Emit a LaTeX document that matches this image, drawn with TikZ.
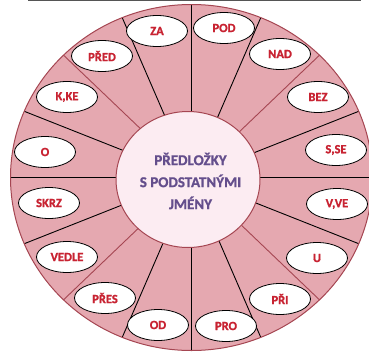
\documentclass[tikz,border=0pt]{standalone}
\usepackage{fontspec}
\setmainfont{Carlito}[BoldFont={Carlito Bold}]
\newfontfamily\heavyfont{Carlito Bold}[FakeBold=1.2]
\usetikzlibrary{shapes.geometric}
\definecolor{ringpink}{RGB}{229,168,176}
\definecolor{ringedge}{RGB}{165,70,82}
\definecolor{innerfill}{RGB}{252,236,242}
\definecolor{labred}{RGB}{200,35,50}
\definecolor{titlepurple}{RGB}{100,78,140}
\definecolor{topline}{RGB}{85,85,85}
\begin{document}
\begin{tikzpicture}[x=1pt,y=-1pt,
  lab/.style={ellipse, draw=black, line width=0.8pt, fill=white,
    minimum width=61pt, minimum height=31pt, inner sep=0pt,
    font=\fontsize{12.5}{12.5}\selectfont\heavyfont, text=labred},
  blackdiv/.style={draw=black, line width=0.9pt},
  reddiv/.style={draw=ringedge, line width=0.9pt},
  title/.style={align=center, text=titlepurple,
    font=\fontsize{15}{22}\selectfont\heavyfont}]
\useasboundingbox (0,0) rectangle (369,351);
\draw[topline, line width=1.5pt] (28,0.7) -- (361,0.7);
\coordinate (c) at (191.5,177.5);
\fill[ringpink] (c) ellipse [x radius=181pt, y radius=173pt];
\foreach \a in {0,22.5,67.5,90,112.5,157.5,180,202.5,247.5,270,292.5,337.5}
  \draw[blackdiv] (c) -- ++({181*cos(\a)},{-173*sin(\a)});
\foreach \a in {45,135,225,315}
  \draw[reddiv] (c) -- ++({181*cos(\a)},{-173*sin(\a)});
\draw[ringedge, line width=1pt] (c) ellipse [x radius=181pt, y radius=173pt];
\draw[ringedge, line width=1pt, fill=innerfill] (188,179.5) ellipse [x radius=72pt, y radius=68pt];
\node[title] (t) at (190.5,181) {PŘEDLOŽKY\\S PODSTATNÝMI\\JMÉNY};
\node[lab] (za) at (157,31) {ZA};
\node[lab] (pod) at (224,28) {POD};
\node[lab] (nad) at (280,54) {NAD};
\node[lab] (bez) at (318,97) {BEZ};
\node[lab] (sse) at (336,150) {S,SE};
\node[lab] (vve) at (337,204) {V,VE};
\node[lab] (u) at (317,258) {U};
\node[lab] (pri) at (280,299) {PŘI};
\node[lab] (pro) at (226,326) {PRO};
\node[lab] (od) at (158,325) {OD};
\node[lab] (pres) at (105,298) {PŘES};
\node[lab] (vedle) at (67,257) {VEDLE};
\node[lab] (skrz) at (49,203) {SKRZ};
\node[lab] (o) at (45,152) {O};
\node[lab] (kke) at (67,97) {K,KE};
\node[lab] (pred) at (102,56) {PŘED};
\end{tikzpicture}
\end{document}
